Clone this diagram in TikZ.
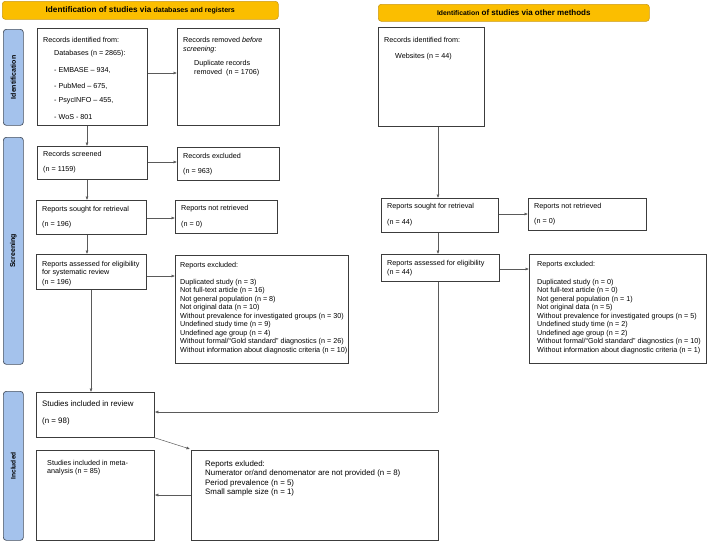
\documentclass[tikz,border=0pt]{standalone}
\usepackage{fontspec}
\setmainfont{Liberation Sans}
\usetikzlibrary{arrows.meta}
\definecolor{hdr}{RGB}{251,190,0}
\definecolor{hdrline}{RGB}{205,155,20}
\definecolor{side}{RGB}{164,194,236}
\definecolor{sideline}{RGB}{70,80,95}
\definecolor{boxline}{RGB}{60,60,60}
\definecolor{conn}{RGB}{90,90,90}
\newcommand{\fs}{\fontsize{7.2}{8.5}\selectfont}
\newcommand{\fb}{\fontsize{7.9}{9.5}\selectfont}
\begin{document}
\begin{tikzpicture}[x=1pt,y=-1pt,
  box/.style={draw=boxline,line width=0.8pt,anchor=north west,inner sep=0,fill=white},
  hbox/.style={draw=hdrline,fill=hdr,rounded corners=3pt,line width=0.6pt,anchor=north west,inner sep=0},
  sbox/.style={draw=sideline,fill=side,rounded corners=3pt,line width=0.7pt,anchor=north west,inner sep=0},
  txt/.style={anchor=west,inner sep=0,font=\fs},
  txtb/.style={anchor=west,inner sep=0,font=\fb},
  lst/.style={anchor=north west,inner sep=0,font=\fs,align=left},
  arr/.style={draw=conn,line width=0.5pt,-{Latex[length=3.5pt,width=3pt]}},
  ln/.style={draw=conn,line width=0.5pt}]
\useasboundingbox (0,0) rectangle (708,542);
\fill[white] (0,0) rectangle (708,542);
% headers
\node[hbox,minimum width=276pt,minimum height=18pt] (hL) at (2,1) {};
\node[font=\bfseries\fontsize{8.2}{9}\selectfont] (hLt) at (hL.center) {Identification of studies via {\fontsize{7.1}{8}\selectfont databases and registers}};
\node[hbox,minimum width=271pt,minimum height=17pt] (hR) at (378,4) {};
\node[font=\bfseries\fontsize{8}{9}\selectfont] (hRt) at (hR.center) {{\fontsize{6.8}{8}\selectfont Identification} of studies via other methods};
% side bars
\node[sbox,minimum width=20pt,minimum height=96pt] (sI) at (3,29) {};
\node[rotate=90,font=\bfseries\fontsize{7}{8}\selectfont] (sIt) at (sI.center) {Identification};
\node[sbox,minimum width=20pt,minimum height=227pt] (sS) at (3,137) {};
\node[rotate=90,font=\bfseries\fontsize{7}{8}\selectfont] (sSt) at (sS.center) {Screening};
\node[sbox,minimum width=20pt,minimum height=149pt] (sN) at (3,391) {};
\node[rotate=90,font=\bfseries\fontsize{6.6}{8}\selectfont] (sNt) at (sN.center) {Included};
% left column boxes
\node[box,minimum width=110pt,minimum height=97pt] (ident) at (37,28) {};
\node[box,minimum width=102pt,minimum height=97pt] (removed) at (177,28) {};
\node[box,minimum width=110pt,minimum height=33pt] (screened) at (37,146) {};
\node[box,minimum width=102pt,minimum height=33pt] (excl1) at (177,147) {};
\node[box,minimum width=110pt,minimum height=34pt] (sought) at (36,200) {};
\node[box,minimum width=102pt,minimum height=33pt] (notret) at (175,200) {};
\node[box,minimum width=110pt,minimum height=35pt] (assessed) at (36,254) {};
\node[box,minimum width=173pt,minimum height=108pt] (excl2) at (175,255) {};
% right column boxes
\node[box,minimum width=106pt,minimum height=99pt] (rident) at (378,27) {};
\node[box,minimum width=117pt,minimum height=34pt] (rsought) at (381,198) {};
\node[box,minimum width=118pt,minimum height=32pt] (rnotret) at (528,198) {};
\node[box,minimum width=118pt,minimum height=27pt] (rassessed) at (381,254) {};
\node[box,minimum width=177pt,minimum height=109pt] (rexcl) at (529,254) {};
% included boxes
\node[box,minimum width=118pt,minimum height=45pt] (review) at (36,392) {};
\node[box,minimum width=118pt,minimum height=90pt] (meta) at (36,450) {};
\node[box,minimum width=247pt,minimum height=90pt] (excl3) at (191,450) {};
% texts
\node[txt] (t1) at (43,40) {Records identified from:};
\node[txt] (t2) at (54,54) {Databases (n = 2865):};
\node[txt] (t3) at (54,70) {- EMBASE – 934,};
\node[txt] (t4) at (54,86) {- PubMed – 675,};
\node[txt] (t5) at (54,101) {- PsycINFO – 455,};
\node[txt] (t6) at (54,117) {- WoS - 801};
\node[txt] (t7) at (183,40) {Records removed \textit{before}};
\node[txt] (t8) at (183,50) {\textit{screening}:};
\node[txt] (t9) at (194,64) {Duplicate records};
\node[txt] (t10) at (194,73) {removed~~(n = 1706)};
\node[txt] (t11) at (43,154) {Records screened};
\node[txt] (t12) at (43,170) {(n = 1159)};
\node[txt] (t13) at (183,156) {Records excluded};
\node[txt] (t14) at (183,172) {(n = 963)};
\node[txt] (t15) at (42,210) {Reports sought for retrieval};
\node[txt] (t16) at (42,225) {(n = 196)};
\node[txt] (t17) at (181,209) {Reports not retrieved};
\node[txt] (t18) at (181,225) {(n = 0)};
\node[txt] (t19) at (42,265) {Reports assessed for eligibility};
\node[txt] (t20) at (42,273) {for systematic review};
\node[txt] (t21) at (42,283) {(n = 196)};
\node[txt] (t22) at (180,266) {Reports excluded:};
\node[lst] (t23) at (180,279) {Duplicated study (n = 3)\\Not full-text article (n = 16)\\Not general population (n = 8)\\Not original data (n = 10)\\Without prevalence for investigated groups (n = 30)\\Undefined study time (n = 9)\\Undefined age group (n = 4)\\Without formal/“Gold standard” diagnostics (n = 26)\\Without information about diagnostic criteria (n = 10)};
\node[txt] (r1) at (384,40) {Records identified from:};
\node[txt] (r2) at (395,57) {Websites (n = 44)};
\node[txt] (r3) at (387,207) {Reports sought for retrieval};
\node[txt] (r4) at (387,223) {(n = 44)};
\node[txt] (r5) at (534,207) {Reports not retrieved};
\node[txt] (r6) at (534,222) {(n = 0)};
\node[txt] (r7) at (387,264) {Reports assessed for eligibility};
\node[txt] (r8) at (387,273) {(n = 44)};
\node[txt] (r9) at (537,265) {Reports excluded:};
\node[lst] (r10) at (537,279) {Duplicated study (n = 0)\\Not full-text article (n = 0)\\Not general population (n = 1)\\Not original data (n = 5)\\Without prevalence for investigated groups (n = 5)\\Undefined study time (n = 2)\\Undefined age group (n = 2)\\Without formal/“Gold standard” diagnostics (n = 10)\\Without information about diagnostic criteria (n = 1)};
\node[txtb] (i1) at (42,404) {Studies included in review};
\node[txtb] (i2) at (42,421) {(n = 98)};
\node[txt] (i3) at (47,463) {Studies included in meta-};
\node[txt] (i4) at (47,472) {analysis (n = 85)};
\node[txtb] (i5) at (205,464) {Reports exluded:};
\node[txtb] (i6) at (205,473) {Numerator or/and denomenator are not provided (n = 8)};
\node[txtb] (i7) at (205,483) {Period prevalence (n = 5)};
\node[txtb] (i8) at (205,492) {Small sample size (n = 1)};
% helper coordinates
\coordinate (xa) at (87,0);
\coordinate (xb) at (91,0);
\coordinate (xr) at (438,0);
\coordinate (ya) at (0,73);
\coordinate (yb) at (0,162);
\coordinate (yc) at (0,218);
\coordinate (yd) at (0,276);
\coordinate (ye) at (0,214);
\coordinate (yf) at (0,269);
\coordinate (yg) at (0,412);
\coordinate (yh) at (0,495);
\coordinate (bend) at (438,412);
% connectors left
\draw[arr] (ident.south -| xa) -- (screened.north -| xa);
\draw[arr] (screened.south -| xa) -- (sought.north -| xa);
\draw[arr] (sought.south -| xa) -- (assessed.north -| xa);
\draw[arr] (assessed.south -| xb) -- (review.north -| xb);
\draw[arr] (ident.east |- ya) -- (removed.west |- ya);
\draw[arr] (screened.east |- yb) -- (excl1.west |- yb);
\draw[arr] (sought.east |- yc) -- (notret.west |- yc);
\draw[arr] (assessed.east |- yd) -- (excl2.west |- yd);
% connectors right
\draw[arr] (rident.south -| xr) -- (rsought.north -| xr);
\draw[arr] (rsought.south -| xr) -- (rassessed.north -| xr);
\draw[arr] (rsought.east |- ye) -- (rnotret.west |- ye);
\draw[arr] (rassessed.east |- yf) -- (rexcl.west |- yf);
\draw[ln] (rassessed.south -| xr) -- (bend);
\draw[arr] (bend) -- (review.east |- yg);
% included connectors
\draw[arr] (review.south east) -- ([xshift=-1pt,yshift=1pt]excl3.north west);
\draw[arr] (excl3.west |- yh) -- (meta.east |- yh);
\end{tikzpicture}
\end{document}
